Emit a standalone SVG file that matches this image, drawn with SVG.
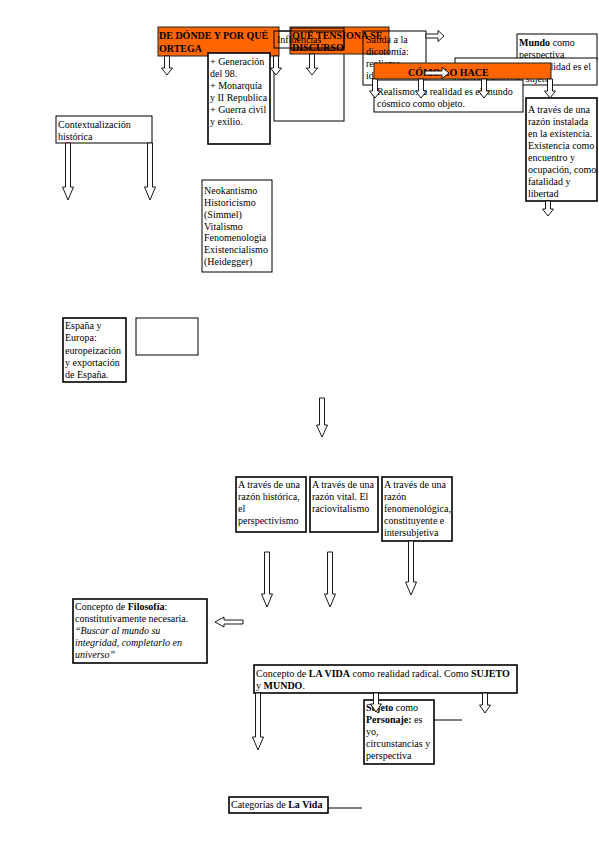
<svg xmlns="http://www.w3.org/2000/svg" width="599" height="848" viewBox="0 0 599 848">
<style>
text{font-family:"Liberation Serif","Times New Roman",serif;font-size:10px;fill:#000}
.b{font-weight:bold}
.i{font-style:italic}
.box{fill:#fff;stroke:#000;stroke-width:1}
.open{fill:none;stroke:#000;stroke-width:1}
.thick{fill:#fff;stroke:#000;stroke-width:1.6}
.org{fill:#ff6600;stroke:#222;stroke-width:1}
.arr{fill:#fff;stroke:#000;stroke-width:0.9}
.ln{fill:none;stroke:#000;stroke-width:1}
</style>
<rect width="599" height="848" fill="#fff"/>

<g id="n-influencias-col">
<rect class="box" x="274" y="31" width="70" height="90"/>
</g>
<g id="n-de-donde">
<rect class="org" x="158" y="27" width="121" height="29"/>
<text class="b" x="159" y="39">DE DÓNDE Y POR QUÉ</text>
<text class="b" x="159" y="52">ORTEGA</text>
</g>
<g id="n-generacion">
<rect class="thick" x="208" y="53" width="62" height="91"/>
<text x="210" y="65">+ Generación</text>
<text x="210" y="77">del 98.</text>
<text x="210" y="89">+ Monarquía</text>
<text x="210" y="101">y II Republica</text>
<text x="210" y="113">+ Guerra civil</text>
<text x="210" y="125">y exilio.</text>
</g>
<g id="n-que-tensiona">
<rect class="org" x="290" y="27" width="99" height="27"/>
<rect class="open" x="291" y="28" width="53" height="22"/>
<text class="b" x="292" y="39">QUÉ TENSIONA SE</text>
<text class="b" x="292" y="51">DISCURSO</text>
</g>
<g id="n-influencias">
<rect class="open" x="274" y="31" width="70" height="17"/>
<text x="277" y="43">Influencias</text>
</g>
<g id="n-salida">
<rect class="open" x="363" y="31" width="63" height="54"/>
<text x="366" y="43">Salida a la</text>
<text x="366" y="55">dicotomía:</text>
<text x="366" y="67">realismo</text>
<text x="366" y="79">idealismo</text>
</g>
<g id="n-mundo">
<rect class="box" x="517" y="34" width="80" height="26"/>
<text x="519" y="46"><tspan class="b">Mundo</tspan> como</text>
<text x="519" y="58">perspectiva</text>
</g>
<g id="n-idealismo">
<rect class="box" x="455" y="58" width="142" height="27"/>
<text x="591" y="70" text-anchor="end">Idealismo: la realidad es  el</text>
<text x="458" y="82">pensamiento del sujeto.</text>
</g>
<g id="n-realismo">
<rect class="box" x="374" y="80" width="149" height="32"/>
<text x="377" y="95">Realismo: la realidad es el mundo</text>
<text x="377" y="107">cósmico como objeto.</text>
</g>
<g id="n-como">
<rect class="org" x="374" y="63" width="177" height="16"/>
<text class="b" x="408" y="76">CÓMO LO HACE</text>
</g>
<g id="n-instalada">
<rect class="thick" x="526" y="98" width="71" height="103"/>
<text x="528" y="113">A través de una</text>
<text x="528" y="125">razón instalada</text>
<text x="528" y="137">en la existencia.</text>
<text x="528" y="149">Existencia como</text>
<text x="528" y="161">encuentro y</text>
<text x="528" y="173">ocupación, como</text>
<text x="528" y="185">fatalidad y</text>
<text x="528" y="197">libertad</text>
</g>
<g id="n-contexto">
<rect class="box" x="56" y="116" width="96" height="27"/>
<text x="58" y="128">Contextualización</text>
<text x="58" y="140">histórica</text>
</g>
<g id="n-neokantismo">
<rect class="box" x="202" y="180" width="70" height="92"/>
<text x="204" y="194">Neokantismo</text>
<text x="204" y="206">Historicismo</text>
<text x="204" y="218">(Simmel)</text>
<text x="204" y="230">Vitalismo</text>
<text x="204" y="241">Fenomenología</text>
<text x="204" y="253">Existencialismo</text>
<text x="204" y="265">(Heidegger)</text>
</g>
<g id="n-espana">
<rect class="thick" x="63" y="318" width="63" height="64"/>
<text x="65" y="329">España y</text>
<text x="65" y="341">Europa:</text>
<text x="65" y="354">europeización</text>
<text x="65" y="366">y exportación</text>
<text x="65" y="378">de España.</text>
</g>
<g id="n-vacio">
<rect class="box" x="136" y="318" width="62" height="37"/>
</g>
<g id="n-historica">
<rect class="thick" x="236" y="477" width="70" height="55"/>
<text x="238" y="488">A través de una</text>
<text x="238" y="500">razón histórica,</text>
<text x="238" y="512">el</text>
<text x="238" y="524">perspectivismo</text>
</g>
<g id="n-vital">
<rect class="thick" x="310" y="477" width="68" height="55"/>
<text x="312" y="488">A través de una</text>
<text x="312" y="500">razón vital. El</text>
<text x="312" y="512">raciovitalismo</text>
</g>
<g id="n-fenomenologica">
<rect class="thick" x="382" y="477" width="70" height="64"/>
<text x="384" y="488">A través de una</text>
<text x="384" y="500">razón</text>
<text x="384" y="512">fenomenológica,</text>
<text x="384" y="524">constituyente  e</text>
<text x="384" y="536">intersubjetiva</text>
</g>
<g id="n-filosofia">
<rect class="thick" x="73" y="599" width="134" height="64"/>
<text x="75" y="610">Concepto de <tspan class="b">Filosofía</tspan>:</text>
<text x="75" y="622">constitutivamente necesaria.</text>
<text x="75" y="634" class="i">“Buscar al mundo su</text>
<text x="75" y="646" class="i">integridad, completarlo en</text>
<text x="75" y="658" class="i">universo”</text>
</g>
<g id="n-vida">
<rect class="thick" x="254" y="665" width="263" height="28"/>
<text x="256" y="677">Concepto de <tspan class="b">LA VIDA</tspan> como realidad radical. Como <tspan class="b">SUJETO</tspan></text>
<text x="256" y="689">y  <tspan class="b">MUNDO</tspan>.</text>
</g>
<g id="n-sujeto">
<rect class="thick" x="364" y="700" width="70" height="64"/>
<text x="366" y="711"><tspan class="b">Sujeto</tspan> como</text>
<text x="366" y="723"><tspan class="b">Personaje:</tspan> es</text>
<text x="366" y="735">yo,</text>
<text x="366" y="747">circunstancias y</text>
<text x="366" y="759">perspectiva</text>
</g>
<g id="n-categorias">
<rect class="thick" x="229" y="797" width="99" height="16"/>
<text x="231" y="808">Categorías de <tspan class="b">La Vida</tspan></text>
</g>

<g id="connectors">
<path class="arr" d="M164.5,56 V68 H161.5 L167,75 L172.5,68 H169.5 V56 Z"/>
<path class="arr" d="M273.5,56 V68 H270.5 L276,75 L281.5,68 H278.5 V56 Z"/>
<path class="arr" d="M309.5,54 V68 H306.5 L312,75 L317.5,68 H314.5 V54 Z"/>
<path class="arr" d="M372.5,79 V91 H369.5 L375,98 L380.5,91 H377.5 V79 Z"/>
<path class="arr" d="M418.5,79 V91 H415.5 L421,98 L426.5,91 H423.5 V79 Z"/>
<path class="arr" d="M481.5,79 V91 H478.5 L484,98 L489.5,91 H486.5 V79 Z"/>
<path class="arr" d="M547.5,79 V91 H544.5 L550,98 L555.5,91 H552.5 V79 Z"/>
<path class="arr" d="M545.5,201 V209 H542.5 L548,216 L553.5,209 H550.5 V201 Z"/>
<path class="arr" d="M65.5,143 V187 H62.5 L68,200 L73.5,187 H70.5 V143 Z"/>
<path class="arr" d="M147.5,143 V187 H144.5 L150,200 L155.5,187 H152.5 V143 Z"/>
<path class="arr" d="M319.5,398 V425 H316.5 L322,437 L327.5,425 H324.5 V398 Z"/>
<path class="arr" d="M264.5,552 V594 H261.5 L267,607 L272.5,594 H269.5 V552 Z"/>
<path class="arr" d="M327.5,552 V594 H324.5 L330,607 L335.5,594 H332.5 V552 Z"/>
<path class="arr" d="M408.5,541 V582 H405.5 L411,595 L416.5,582 H413.5 V541 Z"/>
<path class="arr" d="M255.5,693 V737 H252.5 L258,750 L263.5,737 H260.5 V693 Z"/>
<path class="arr" d="M373.5,693 V704 H370.5 L376,712 L381.5,704 H378.5 V693 Z"/>
<path class="arr" d="M482.5,693 V705 H479.5 L485,713 L490.5,705 H487.5 V693 Z"/>
<path class="arr" d="M426,34 H438 V30.5 L444,36 L438,41.5 V38 H426 Z"/>
<path class="arr" d="M425,71 H442 V67.5 L449,73 L442,78.5 V75 H425 Z"/>
<path class="arr" d="M243,620 H224 V617 L215,622 L224,627 V624 H243 Z"/>
<path class="ln" d="M434,720 H462"/>
<path class="ln" d="M328,808 H362"/>
</g>
</svg>
